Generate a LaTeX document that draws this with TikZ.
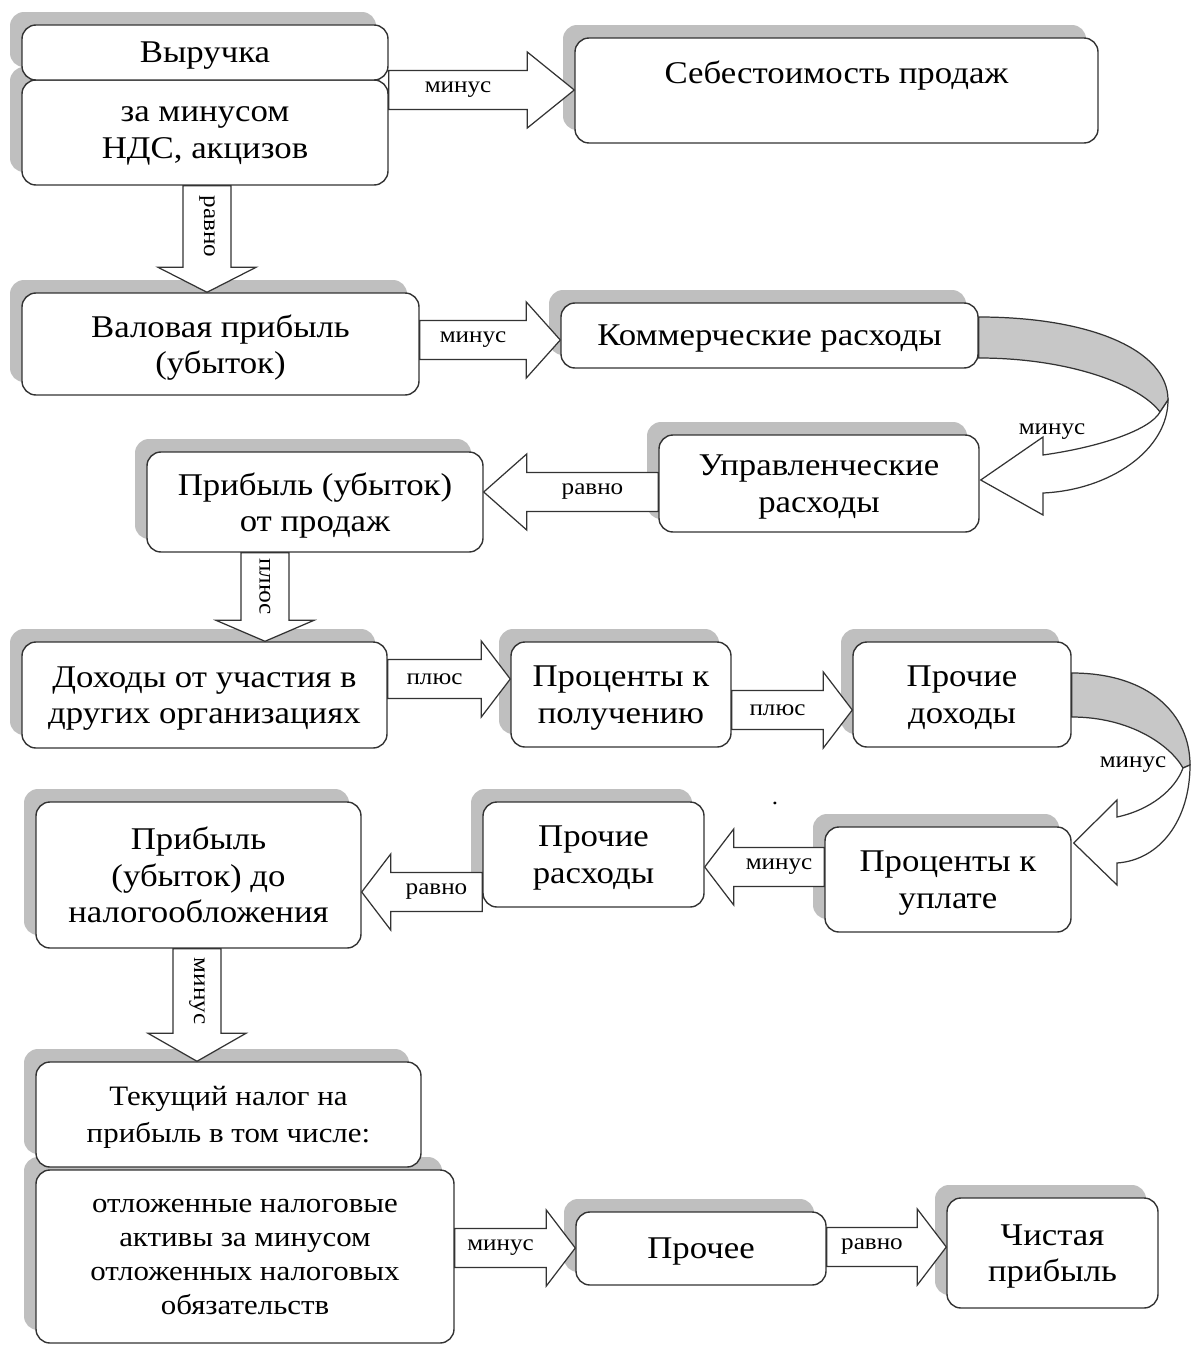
\documentclass[tikz,border=0pt]{standalone}
\usepackage{fontspec}
\setmainfont[FakeStretch=1.1]{Liberation Serif}
\usetikzlibrary{positioning,calc,shadows}

\newcommand{\pxu}{0.02cm}

% block arrow, left or right: tail anchor, tip anchor, y, head length, label
\newcommand{\blockh}[5]{%
  \draw[blockarrow] let \p1=(#1), \p2=(#2),
      \n1={\x2-(\x2-\x1)/abs(\x2-\x1)*#4*\pxu}, \n2={-(#3)*\pxu} in
    (\x1,{\n2+19.5*\pxu}) -- (\n1,{\n2+19.5*\pxu}) -- (\n1,{\n2+38*\pxu})
    -- (\x2,\n2) -- (\n1,{\n2-38*\pxu}) -- (\n1,{\n2-19.5*\pxu})
    -- (\x1,{\n2-19.5*\pxu}) -- cycle
    node[lbl] at ({(\x1+\n1)/2},\n2) {#5};}

% block arrow downwards: tail anchor, tip anchor, x, head length, label
\newcommand{\blockv}[5]{%
  \draw[blockarrow] let \p1=(#1), \p2=(#2),
      \n1={\y2+#4*\pxu}, \n2={(#3)*\pxu} in
    ({\n2-24*\pxu},\y1) -- ({\n2-24*\pxu},\n1) -- ({\n2-49*\pxu},\n1) -- (\n2,\y2)
    -- ({\n2+49*\pxu},\n1) -- ({\n2+24*\pxu},\n1) -- ({\n2+24*\pxu},\y1) -- cycle
    node[lbl,rotate=-90] at (\n2,{(\y1+\n1)/2}) {#5};}

\begin{document}
\begin{tikzpicture}[x=0.02cm, y=-0.02cm,
  box/.style={draw=black!80, fill=white, rounded corners=0.28cm, line width=0.8pt,
    align=center, inner sep=0pt, text depth=0pt, font=\fontsize{18}{20.8}\selectfont,
    general shadow={fill=black!25, shadow xshift=-0.24cm, shadow yshift=0.26cm}},
  wh/.style 2 args={minimum width=#1*\pxu, minimum height=#2*\pxu},
  blockarrow/.style={draw=black!80, fill=white, line width=0.7pt},
  band/.style={draw=black!80, line width=0.7pt},
  lbl/.style={font=\fontsize{13}{15}\selectfont, inner sep=0pt}]
\useasboundingbox (0,0) rectangle (1191,1345);

% boxes
\node[box, wh={366}{105}] (zaminus) at (205,132.5) {за минусом\\НДС, акцизов};
\node[box, wh={366}{55}] (vyruchka) at (205,52.5) {Выручка};
\node[box, minimum width=523*\pxu, text height=0.9cm, text depth=1.2cm] (sebest) at (836.5,90.5) {Себестоимость продаж};
\node[box, wh={397}{102}] (valovaya) at (220.5,344) {Валовая прибыль\\(убыток)};
\node[box, wh={417}{65}] (kommerch) at (769.5,335.5) {Коммерческие расходы};
\node[box, wh={320}{97}] (upravl) at (819,483.5) {Управленческие\\расходы};
\node[box, wh={336}{100}] (prodazhi) at (315,502) {Прибыль (убыток)\\от продаж};
\node[box, wh={365}{106}] (dohody) at (204.5,695) {Доходы от участия в\\других организациях};
\node[box, wh={220}{105}] (poluch) at (621,694.5) {Проценты к\\получению};
\node[box, wh={218}{105}] (prochdoh) at (962,694.5) {Прочие\\доходы};
\node[box, wh={246}{105}] (uplate) at (948,879.5) {Проценты к\\уплате};
\node[box, wh={221}{105}] (prochras) at (593.5,854.5) {Прочие\\расходы};
\node[box, wh={325}{146}] (donalog) at (198.5,875) {Прибыль\\(убыток) до\\налогообложения};
\node[box, wh={418}{173}, font=\fontsize{16}{19.4}\selectfont] (otlozh) at (245,1256.5) {отложенные налоговые\\активы за минусом\\отложенных налоговых\\обязательств};
\node[box, wh={385}{105}, font=\fontsize{16}{20.8}\selectfont] (tekusch) at (228.5,1114.5) {Текущий налог на\\прибыль в том числе:};
\node[box, wh={250}{73}] (prochee) at (701,1248.5) {Прочее};
\node[box, wh={211}{110}] (chistaya) at (1052.5,1253) {Чистая\\прибыль};
\node[lbl] (dot) at (775,803) {.};

% straight arrows
\blockh{vyruchka.east}{sebest.west}{90}{47}{минус}
\blockv{zaminus.south}{valovaya.north}{207}{25}{равно}
\blockh{valovaya.east}{kommerch.west}{340}{34}{минус}
\blockh{upravl.west}{prodazhi.east}{492}{43}{равно}
\blockv{prodazhi.south}{dohody.north}{265}{21}{плюс}
\blockh{dohody.east}{poluch.west}{679}{29}{плюс}
\blockh{poluch.east}{prochdoh.west}{710}{29}{плюс}
\blockh{uplate.west}{prochras.east}{867}{29}{минус}
\blockh{prochras.west}{donalog.east}{892}{29}{равно}
\blockv{donalog.south}{tekusch.north}{197}{28}{минус}
\blockh{otlozh.east}{prochee.west}{1248}{29}{минус}
\blockh{prochee.east}{chistaya.west}{1247}{29}{равно}

% curved arrows
\draw[band, fill=black!22] ($(kommerch.east)+(0,-18.5)$) .. controls (1090,317) and (1168,350) .. (1168,400)
  -- (1160,412) .. controls (1140,385) and (1070,358) .. ($(kommerch.east)+(0,22.5)$) -- cycle;
\draw[band, fill=white] (1168,400) .. controls (1168,450) and (1110,490) .. (1043,493) -- (1043,515)
  -- ($(upravl.east)+(1,-3.5)$) -- (1043,437) -- (1043,455) .. controls (1100,447) and (1150,430) .. (1160,412) -- cycle;
\node[lbl] (minus3) at (1052,432) {минус};

\draw[band, fill=black!22] ($(prochdoh.east)+(0,-21.5)$) .. controls (1150,673) and (1190,715) .. (1190,765)
  -- (1183,768) .. controls (1170,745) and (1130,717) .. ($(prochdoh.east)+(0,22.5)$) -- cycle;
\draw[band, fill=white] (1190,765) .. controls (1190,820) and (1160,860) .. (1117,863) -- (1117,885)
  -- ($(uplate.east)+(2,-36.5)$) -- (1117,800) -- (1117,817) .. controls (1150,810) and (1175,790) .. (1183,768) -- cycle;
\node[lbl] (minus7) at (1133,765) {минус};
\end{tikzpicture}
\end{document}
